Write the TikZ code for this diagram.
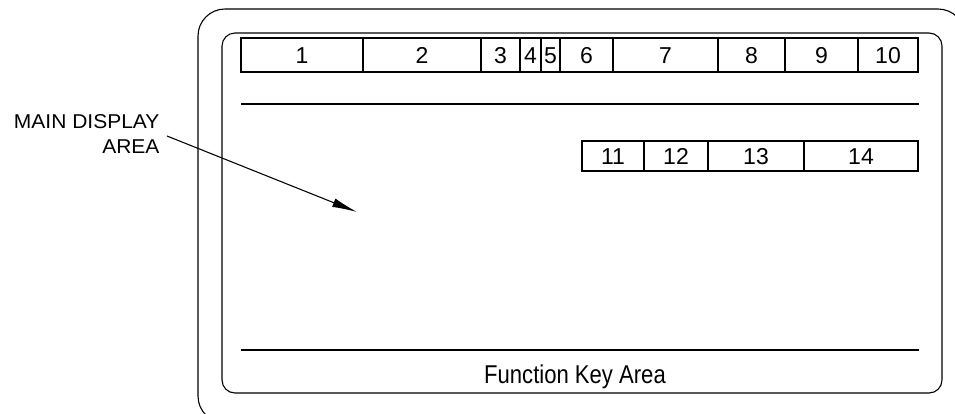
\documentclass[tikz,border=0pt]{standalone}
\usepackage{fontspec}
\usepackage{graphicx}
\setmainfont{Liberation Sans}
\usetikzlibrary{arrows.meta}
\tikzset{
  cell/.style={draw, inner sep=0pt, text height=16.5pt, text depth=0pt, font=\fontsize{23}{23}\selectfont},
  frame/.style={draw, line width=1.1pt},
  rule/.style={draw, line width=1.1pt},
  lbl/.style={inner sep=0pt, anchor=base east, font=\fontsize{20}{20}\selectfont},
  pointer/.style={draw, line width=1.1pt, -{Latex[length=25pt,width=9pt]}}
}
\begin{document}
\begin{tikzpicture}[x=1pt,y=-1pt,line width=1.1pt]
\useasboundingbox (0,0) rectangle (955,413);
\begin{scope}
\clip (0,0) rectangle (955,413);
\path[frame, rounded corners=27pt] (198,9) rectangle (965,423);
\end{scope}
\path[frame, rounded corners=13pt] (222,33) rectangle (942,393);
% top key bar
\foreach \a/\b/\t in {241/363/1, 363/481/2, 481/520/3, 520/541/4, 541/560/5, 560/613/6, 613/718/7, 718/785/8, 785/858/9, 858/918/10}
  \node[cell, minimum width={(\b-\a)*1pt}, minimum height=34pt] (k\t) at ({(\a+\b)/2},55) {\t};
% second bar
\foreach \a/\b/\t in {582/644/11, 644/708/12, 708/804/13, 804/918/14}
  \node[cell, minimum width={(\b-\a)*1pt}, minimum height=30pt] (k\t) at ({(\a+\b)/2},156) {\t};
% rules
\coordinate (r1a) at (241,104);
\coordinate (r1b) at (919,104);
\coordinate (r2a) at (241,350);
\coordinate (r2b) at (919,350);
\path[rule] (r1a) -- (r1b);
\path[rule] (r2a) -- (r2b);
\node[inner sep=0pt, font=\fontsize{23}{23}\selectfont] (fka) at (575,377) {\scalebox{0.96}[1.12]{Function Key Area}};
% label
\node[lbl] (l1) at (160,128) {\scalebox{1.05}[1]{MAIN DISPLAY}};
\node[lbl] (l2) at (160,153) {\scalebox{1.05}[1]{AREA}};
\coordinate (as) at (167,136);
\coordinate (ae) at (357,212);
\path[pointer] (as) -- (ae);
\end{tikzpicture}
\end{document}
